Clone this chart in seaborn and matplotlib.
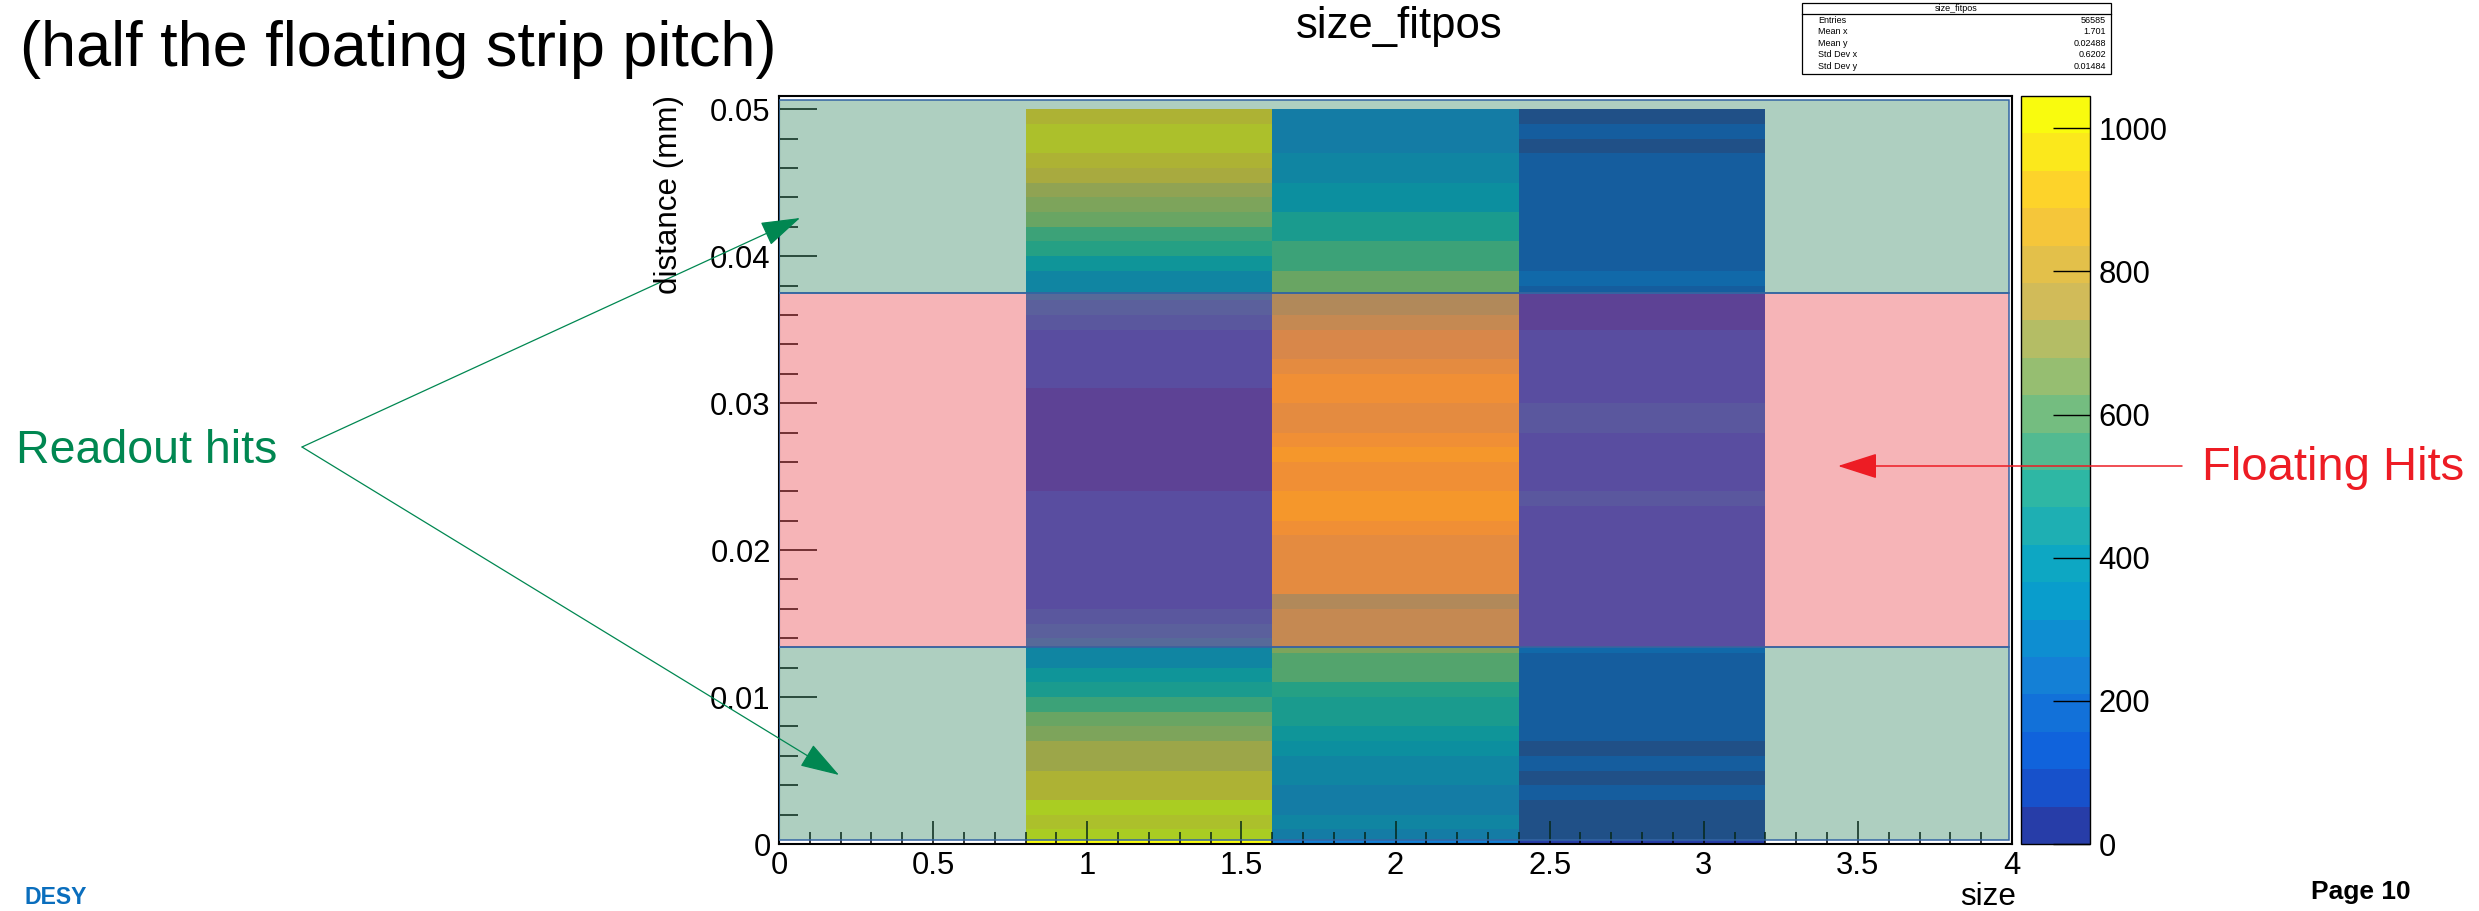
import numpy as np
import pandas as pd
import matplotlib
matplotlib.use("Agg")
import matplotlib.pyplot as plt
import seaborn as sns
from matplotlib.colors import ListedColormap, to_rgba
from matplotlib.patches import Rectangle
from matplotlib.lines import Line2D
from matplotlib.ticker import MultipleLocator, FuncFormatter

# ---------------- data ----------------
sizes = [1, 2, 3]
size_edges = [0.0, 0.8, 1.6, 2.4, 3.2, 4.0]
dist_edges = list(np.linspace(0.0, 0.05, 51))

# entries per distance bin (bottom -> top), one list per cluster size
counts_size1 = [1010, 965, 1010, 913, 913, 809, 809, 705, 653, 548,
                444, 392, 287, 287, 235, 183, 130, 130, 130, 130,
                130, 130, 130, 130, 78, 78, 78, 78, 78, 78,
                78, 130, 130, 130, 130, 183, 235, 287, 287, 392,
                496, 548, 653, 705, 757, 861, 913, 965, 965, 913]
counts_size2 = [235, 287, 235, 235, 287, 287, 340, 392, 444, 444,
                496, 601, 601, 705, 705, 705, 653, 809, 809, 809,
                809, 861, 913, 913, 861, 861, 913, 861, 809, 809,
                861, 861, 809, 757, 757, 705, 653, 640, 653, 548,
                548, 444, 444, 340, 340, 287, 287, 235, 235, 235]
counts_size3 = [26, 26, 26, 78, 26, 78, 26, 78, 78, 78,
                78, 78, 78, 130, 130, 130, 130, 130, 130, 130,
                130, 130, 130, 183, 130, 130, 130, 130, 183, 183,
                130, 130, 130, 130, 130, 78, 78, 78, 130, 78,
                78, 78, 78, 78, 78, 78, 78, 26, 78, 26]

x_ticks = [0, 0.5, 1, 1.5, 2, 2.5, 3, 3.5, 4]
y_ticks = [0, 0.01, 0.02, 0.03, 0.04, 0.05]
cbar_ticks = [0, 200, 400, 600, 800, 1000]
z_max = 1045

stats_title = "size_fitpos"
stats_labels = ["Entries", "Mean x", "Mean y", "Std Dev x", "Std Dev y"]
stats_values = ["56585", "1.701", "0.02488", "0.6202", "0.01484"]

# highlighted zones (distance ranges) drawn over the histogram
zone_edges = [0.0003, 0.0134, 0.0375, 0.0506]
zone_colors = ["#147549", "#e7252e", "#147549"]
zone_alpha = 0.34

# ---------------- palette (ROOT kBird, 20 contours) ----------------
bird_stops = [0.0, 0.125, 0.25, 0.375, 0.5, 0.625, 0.75, 0.875, 1.0]
bird_r = [0.2082, 0.0592, 0.0780, 0.0232, 0.1802, 0.5301, 0.8186, 0.9956, 0.9764]
bird_g = [0.1664, 0.3599, 0.5041, 0.6419, 0.7178, 0.7492, 0.7328, 0.7862, 0.9832]
bird_b = [0.5293, 0.8684, 0.8385, 0.7914, 0.6425, 0.4662, 0.3499, 0.1968, 0.0539]
n_contours = 20
pos = [int((i + 0.99) * 255 / n_contours) / 254 for i in range(n_contours)]
bird_colors = [(np.interp(p, bird_stops, bird_r), np.interp(p, bird_stops, bird_g),
                np.interp(p, bird_stops, bird_b)) for p in pos]
bird_cmap = ListedColormap(bird_colors)

# ---------------- long-form table ----------------
dist_centers = [(a + b) / 2 for a, b in zip(dist_edges[:-1], dist_edges[1:])]
rows = []
for s, counts in zip(sizes, [counts_size1, counts_size2, counts_size3]):
    for d, c in zip(dist_centers, counts):
        rows.append((s, d, c))
df = pd.DataFrame(rows, columns=["size", "distance", "entries"])

# ---------------- figure ----------------
plt.rcParams["font.family"] = ["Liberation Sans", "DejaVu Sans"]
W, H = 2479, 911
fig = plt.figure(figsize=(W / 100, H / 100), dpi=100)


def fx(px):
    return px / W


def fy(py):
    return 1 - py / H


ax = fig.add_axes([fx(779), 67 / H, 1233 / W, 748 / H])
cax = fig.add_axes([fx(2021), 67 / H, 69 / W, 748 / H])

sns.histplot(data=df, x="size", y="distance", weights="entries",
             bins=[size_edges, dist_edges], cmap=bird_cmap, vmin=0, vmax=z_max,
             cbar=True, cbar_ax=cax, ax=ax)

ax.set_xlim(0, 4)
ax.set_ylim(0, 0.0509)
ax.set_xlabel("")
ax.set_ylabel("")
ax.set_xticks(x_ticks)
ax.set_yticks(y_ticks)
ax.xaxis.set_minor_locator(MultipleLocator(0.1))
ax.yaxis.set_minor_locator(MultipleLocator(0.002))
fmt = FuncFormatter(lambda v, p: f"{v:g}")
ax.xaxis.set_major_formatter(fmt)
ax.yaxis.set_major_formatter(fmt)
ax.tick_params(axis="x", which="major", direction="in", length=16.3, width=1.1,
               labelsize=22.3, pad=5, top=False, color="black")
ax.tick_params(axis="x", which="minor", direction="in", length=8.4, width=1.1, top=False)
ax.tick_params(axis="y", which="major", direction="in", length=27.4, width=1.1,
               labelsize=22.3, pad=6, right=False, color="black")
ax.tick_params(axis="y", which="minor", direction="in", length=13.7, width=1.1, right=False)
for sp in ax.spines.values():
    sp.set_visible(True)
    sp.set_color("black")
    sp.set_linewidth(1.5)
ax.grid(False)

# colorbar styling
cax.set_yticks(cbar_ticks)
cax.yaxis.set_ticks_position("right")
cax.yaxis.set_major_formatter(FuncFormatter(lambda v, p: f"{v:g}"))
cax.minorticks_off()
cax.tick_params(direction="in", length=26.6, width=1, labelsize=22.3, pad=6, color="black")
for sp in cax.spines.values():
    sp.set_linewidth(1)

# highlighted zones
for y0, y1, c in zip(zone_edges[:-1], zone_edges[1:], zone_colors):
    ax.add_patch(Rectangle((0, y0), 3.99, y1 - y0, facecolor=to_rgba(c, zone_alpha),
                           edgecolor="#3465a4", lw=1.1, zorder=3))

# titles / labels
fig.text(fx(1399), fy(38), "size_fitpos", ha="center", va="baseline", fontsize=31.4)
fig.text(fx(20), fy(66), "(half the floating strip pitch)", ha="left", va="baseline",
         fontsize=45.4)
fig.text(fx(2016), fy(905), "size", ha="right", va="baseline", fontsize=22.6)
fig.text(fx(669), fy(95), "distance (mm)", rotation=90, ha="center", va="top",
         fontsize=22.6)

# stats box
fig.add_artist(Rectangle((fx(1802), fy(74)), 309 / W, 71 / H, transform=fig.transFigure,
                         facecolor="white", edgecolor="black", lw=0.9))
fig.add_artist(Line2D([fx(1802), fx(2111)], [fy(14), fy(14)], transform=fig.transFigure,
                      color="black", lw=0.9))
fig.text(fx(1956), fy(8.5), stats_title, ha="center", va="center", fontsize=6.5)
for i, (lab, val) in enumerate(zip(stats_labels, stats_values)):
    yy = fy(20.5 + 11.4 * i)
    fig.text(fx(1818), yy, lab, ha="left", va="center", fontsize=6.5)
    fig.text(fx(2106), yy, val, ha="right", va="center", fontsize=6.5)

# annotations
green = "#008751"
red = "#ed1c24"
fig.text(fx(16), fy(463), "Readout hits", color=green, ha="left", va="baseline", fontsize=33.5)
fig.text(fx(2202), fy(480), "Floating Hits", color=red, ha="left", va="baseline", fontsize=34)
apex = (302, H - 447)
for tip in [(800, H - 218), (839, H - 775)]:
    fig.add_artist(plt.Annotation("", xy=tip, xytext=apex, xycoords="figure pixels",
                                  textcoords="figure pixels",
                                  arrowprops=dict(arrowstyle="-|>,head_length=1.0,head_width=0.32",
                                                  mutation_scale=25, color=green, lw=0.9,
                                                  shrinkA=0, shrinkB=0)))
fig.add_artist(plt.Annotation("", xy=(1838, H - 466), xytext=(2182, H - 466),
                              xycoords="figure pixels", textcoords="figure pixels",
                              arrowprops=dict(arrowstyle="-|>,head_length=1.0,head_width=0.32",
                                              mutation_scale=25, color=red, lw=1.1,
                                              shrinkA=0, shrinkB=0)))

# footer
fig.text(fx(24), fy(886), "DESY", color="#0a6ebd", fontweight="bold", ha="left", va="top",
         fontsize=16.6)
fig.text(fx(2311), fy(880), "Page 10", color="black", fontweight="bold", ha="left", va="top",
         fontsize=19)

fig.savefig("out.png", dpi=100)
